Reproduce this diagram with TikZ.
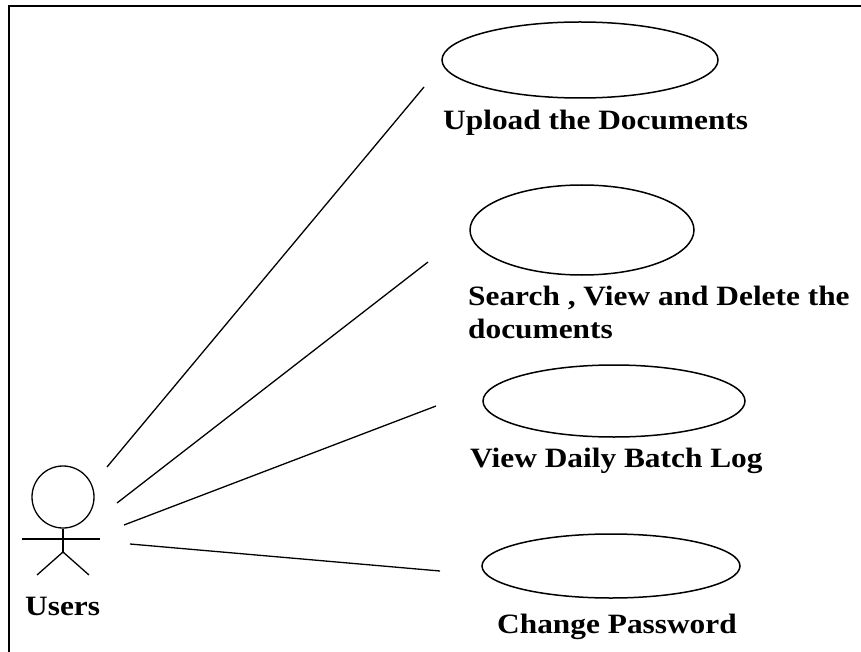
\documentclass[tikz,border=0pt]{standalone}
\usepackage{fontspec}
\setmainfont{Liberation Serif}[FakeStretch=1.12]
\usetikzlibrary{shapes.geometric}

\tikzset{
  usecase/.style={draw, ellipse, line width=1.5pt, inner sep=0pt},
  assoc/.style={line width=1.3pt},
  limb/.style={line width=1.3pt},
  lbl/.style={font=\fontsize{28}{33}\selectfont\bfseries, inner sep=0pt},
  frameline/.style={line width=2.5pt}
}

\begin{document}
\begin{tikzpicture}[x=1pt, y=-1pt]
  \useasboundingbox (0,0) rectangle (861,652);

  % outer frame (top and left edges visible)
  \coordinate (fA) at (9,6);
  \coordinate (fB) at (861,6);
  \coordinate (fC) at (9,652);
  \draw[frameline] (fB) -- (fA) -- (fC);

  % actor
  \node[draw, circle, line width=1.3pt, minimum size=62pt, inner sep=0pt] (head) at (63,497) {};
  \coordinate (hip) at (63,552);
  \coordinate (armL) at (22,539);
  \coordinate (armR) at (100,539);
  \coordinate (legL) at (37,575);
  \coordinate (legR) at (89,575);
  \draw[limb] (head.south) -- (hip);
  \draw[limb] (armL) -- (armR);
  \draw[limb] (legL) -- (hip) -- (legR);
  \node[lbl, anchor=base west] (users) at (25,615) {Users};

  % use cases
  \node[usecase, minimum width=276pt, minimum height=76pt] (uc1) at (580,60) {};
  \node[usecase, minimum width=224pt, minimum height=90pt] (uc2) at (582,230) {};
  \node[usecase, minimum width=262pt, minimum height=72pt] (uc3) at (614,401) {};
  \node[usecase, minimum width=258pt, minimum height=64pt] (uc4) at (611,566) {};

  \node[lbl, anchor=base west] (t1) at (443,130) {Upload the Documents};
  \node[lbl, anchor=base west] (t2a) at (468,305) {Search , View and Delete the};
  \node[lbl, anchor=base west] (t2b) at (468,338) {documents};
  \node[lbl, anchor=base west] (t3) at (470,467) {View Daily Batch Log};
  \node[lbl, anchor=base west] (t4) at (497,633) {Change Password};

  % association lines
  \coordinate (s1) at (107,467);
  \coordinate (s2) at (117,503);
  \coordinate (s3) at (124,525);
  \coordinate (s4) at (130,544);
  \coordinate (e1) at (424,87);
  \coordinate (e2) at (428,262);
  \coordinate (e3) at (436,406);
  \coordinate (e4) at (440,571);
  \draw[assoc] (s1) -- (e1);
  \draw[assoc] (s2) -- (e2);
  \draw[assoc] (s3) -- (e3);
  \draw[assoc] (s4) -- (e4);
\end{tikzpicture}
\end{document}
